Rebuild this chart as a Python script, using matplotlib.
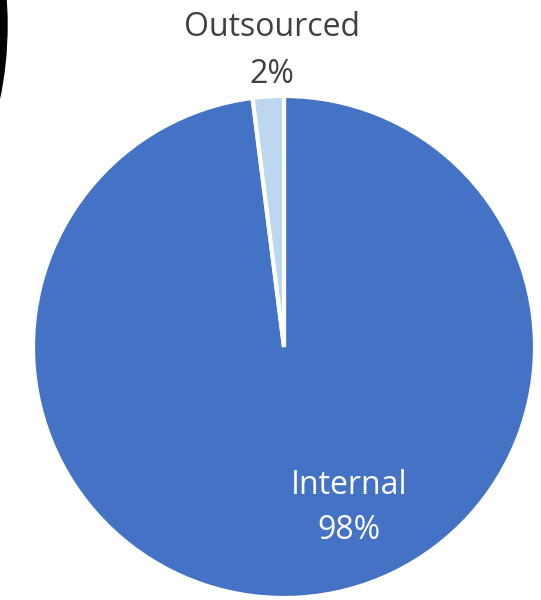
import matplotlib.pyplot as plt
from matplotlib.patches import Ellipse

labels = ['Internal', 'Outsourced']
values = [98, 2]
colors = ['#4472C4', '#BDD7EE']

plt.rcParams['font.family'] = ['Open Sans', 'DejaVu Sans']

fig = plt.figure(figsize=(5.41, 6.00), dpi=100)
ax = fig.add_axes([0, 0, 1, 1])

# pie, drawn clockwise from 12 o'clock like Excel
ax.pie(values, colors=colors, startangle=90, counterclock=False,
       center=(284, 253), radius=251,
       wedgeprops=dict(edgecolor='white', linewidth=3))
ax.set_xlim(0, 541)
ax.set_ylim(0, 600)
ax.set_aspect('equal')
ax.axis('off')

# stray black shape at top-left of the screenshot
ax.add_patch(Ellipse((-100, 575), 214, 400, color='black', zorder=5))

pcts = ['%d%%' % v for v in values]
ax.text(349, 92, labels[0] + '\n' + pcts[0], color='white', fontsize=23,
        ha='center', va='center', linespacing=1.5)
ax.text(272, 549, labels[1] + '\n' + pcts[1], color='#404040', fontsize=23,
        ha='center', va='center', linespacing=1.55)

fig.savefig('out.png', dpi=100)
